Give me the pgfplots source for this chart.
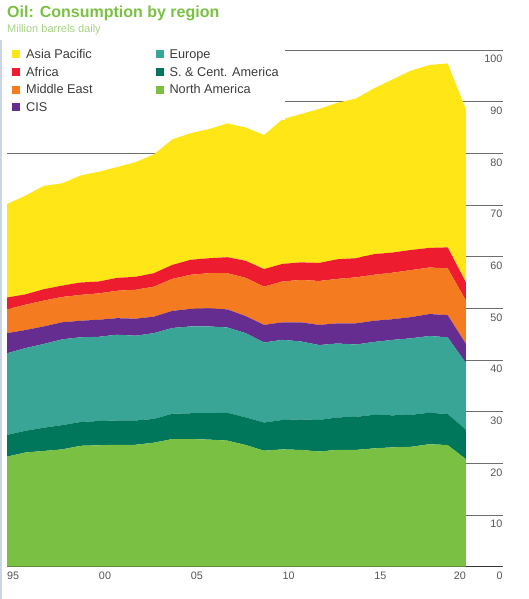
\documentclass[border=0pt]{standalone}
\usepackage{fontspec}
\setmainfont{Liberation Sans}
\usepackage{pgfplots}
\pgfplotsset{compat=1.18}
\usepackage{pgfplotstable}
\definecolor{cAP}{HTML}{FFE617}
\definecolor{cAF}{HTML}{ED1C2E}
\definecolor{cME}{HTML}{F47B20}
\definecolor{cCIS}{HTML}{662D91}
\definecolor{cEU}{HTML}{38A597}
\definecolor{cSCA}{HTML}{00775B}
\definecolor{cNA}{HTML}{7AC143}
\definecolor{cTitle}{HTML}{7AC143}
\definecolor{cSub}{HTML}{A6D381}
\definecolor{cGrid}{HTML}{6E6E6E}
\definecolor{cTick}{HTML}{555555}
\definecolor{cLeg}{HTML}{3C3C3C}
\definecolor{cBase}{HTML}{333333}
\definecolor{cBorder}{HTML}{C8D6E6}

\pgfplotstableread{
year NA SCA EU CIS ME AF AP
1995 21.3 4.2 15.8 3.9 4.6 2.3 18.1
1996 22.1 4.2 16.0 3.5 4.9 2.0 19.1
1997 22.4 4.5 16.2 3.4 5.0 2.2 20.0
1998 22.7 4.7 16.6 3.3 4.9 2.2 19.8
1999 23.4 4.6 16.4 3.2 5.0 2.4 20.7
2000 23.5 4.7 16.3 3.3 5.1 2.3 21.25
2001 23.6 4.7 16.6 3.2 5.3 2.5 21.45
2002 23.6 4.7 16.4 3.3 5.6 2.5 22.2
2003 24.0 4.6 16.6 3.2 5.8 2.6 23.0
2004 24.7 4.9 16.6 3.3 6.2 2.7 24.3
2005 24.7 5.0 16.8 3.4 6.6 2.9 24.5
2006 24.6 5.1 16.8 3.5 6.8 2.9 25.0
2007 24.4 5.4 16.5 3.5 7.0 3.1 25.9
2008 23.55 5.35 16.3 3.3 7.4 3.3 25.8
2009 22.45 5.45 15.5 3.4 7.4 3.4 25.95
2010 22.7 5.7 15.5 3.4 7.9 3.4 28.0
2011 22.6 5.9 15.1 3.7 8.2 3.4 28.7
2012 22.3 6.1 14.5 3.9 8.5 3.5 29.8
2013 22.6 6.3 14.3 3.9 8.6 3.8 30.3
2014 22.6 6.4 14.0 4.1 8.9 3.7 30.9
2015 22.9 6.5 14.1 4.1 8.9 4.0 32.1
2016 23.1 6.2 14.6 4.0 9.0 3.9 33.5
2017 23.2 6.2 14.8 4.1 9.1 3.9 34.7
2018 23.7 6.1 14.85 4.25 9.0 3.8 35.4
2019 23.55 6.0 14.85 4.3 9.05 4.05 35.6
2020 20.8 5.7 12.9 3.7 8.4 3.5 33.5
}\oildata

\begin{document}
\begin{tikzpicture}[x=1pt,y=1pt]
\useasboundingbox (0,0) rectangle (529,-599);
\draw[color=cBorder, line width=1.5pt] (0.75,-40) -- (0.75,-599);
\node[anchor=base west, inner sep=0pt, font=\fontsize{16}{18}\selectfont\bfseries, text=cTitle] at (7,-17.3) {Oil: Consumption by region};
\node[anchor=base west, inner sep=0pt, font=\fontsize{11}{13}\selectfont, text=cSub] at (7,-32.3) {Million barrels daily};
\begin{axis}[
  at={(7pt,-566.7pt)}, anchor=south west,
  scale only axis, width=495.7pt, height=516.7pt,
  xmin=1995, xmax=2022, ymin=0, ymax=100,
  stack plots=y,
  axis line style={draw=none},
  major tick length=0pt,
  ytick={0,10,...,100},
  ymajorgrids, grid style={color=cGrid, line width=0.9pt},
  xtick={1995,2000,2005,2010,2015},
  xticklabels={95,00,05,10,15},
  extra x ticks={2020}, extra x tick labels={20},
  extra x tick style={xticklabel style={anchor=north east}},
  xticklabel style={anchor=north west, inner sep=0pt, yshift=-5pt},
  yticklabel pos=right,
  yticklabel style={anchor=north east, inner sep=0pt, yshift=-5pt},
  ticklabel style={font=\fontsize{10.8}{12}\selectfont, text=cTick},
  /pgf/number format/assume math mode=true,
  legend image code/.code={\fill[#1] (0pt,-3.2pt) rectangle (8pt,4.8pt);},
  legend columns=2,
  legend cell align=left,
  legend style={
    at={(-0.002,1.013)}, anchor=north west,
    fill=white, draw=none,
    inner xsep=6pt, inner ysep=6pt,
    font=\fontsize{12.7}{14}\selectfont, text=cLeg,
    row sep=6.1pt,
    nodes={inner sep=0pt, text height=9pt, text depth=2.5pt},
    /tikz/every odd column/.append style={column sep=6pt},
    /tikz/every even column/.append style={column sep=63pt},
  },
]
\addlegendimage{fill=cAP, draw=none}\addlegendentry{Asia Pacific}
\addlegendimage{fill=cEU, draw=none}\addlegendentry{Europe}
\addlegendimage{fill=cAF, draw=none}\addlegendentry{Africa}
\addlegendimage{fill=cSCA, draw=none}\addlegendentry{S. \& Cent. America}
\addlegendimage{fill=cME, draw=none}\addlegendentry{Middle East}
\addlegendimage{fill=cNA, draw=none}\addlegendentry{North America}
\addlegendimage{fill=cCIS, draw=none}\addlegendentry{CIS}

\addplot[fill=cNA, draw=none] table[x=year, y=NA]{\oildata} \closedcycle;
\addplot[fill=cSCA, draw=none] table[x=year, y=SCA]{\oildata} \closedcycle;
\addplot[fill=cEU, draw=none] table[x=year, y=EU]{\oildata} \closedcycle;
\addplot[fill=cCIS, draw=none] table[x=year, y=CIS]{\oildata} \closedcycle;
\addplot[fill=cME, draw=none] table[x=year, y=ME]{\oildata} \closedcycle;
\addplot[fill=cAF, draw=none] table[x=year, y=AF]{\oildata} \closedcycle;
\addplot[fill=cAP, draw=none] table[x=year, y=AP]{\oildata} \closedcycle;

\draw[cBase, line width=1.5pt] (axis cs:1995,0) -- (axis cs:2022,0);
\end{axis}
\end{tikzpicture}
\end{document}
